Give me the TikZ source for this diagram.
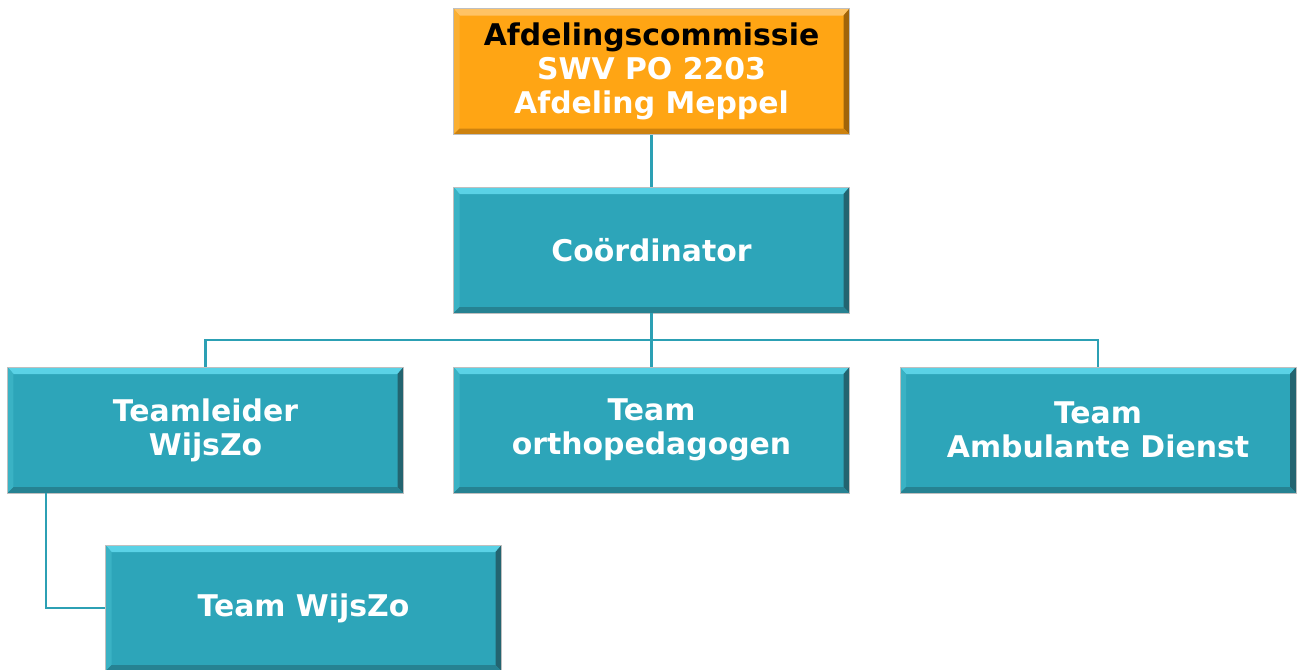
\documentclass[tikz,border=0pt]{standalone}
\usepackage{fontspec}
\setmainfont{DejaVu Sans}
\usetikzlibrary{positioning,calc}
\definecolor{boxteal}{RGB}{45,165,185}
\definecolor{tealtop}{RGB}{90,210,230}
\definecolor{tealleft}{RGB}{58,178,196}
\definecolor{tealdark}{RGB}{35,100,112}
\definecolor{tealbottom}{RGB}{38,130,146}
\definecolor{boxorange}{RGB}{255,165,20}
\definecolor{orangetop}{RGB}{255,195,100}
\definecolor{orangeleft}{RGB}{250,175,50}
\definecolor{orangedark}{RGB}{160,100,10}
\definecolor{orangebottom}{RGB}{205,130,15}
\definecolor{linkteal}{RGB}{44,160,180}

\begin{document}
\begin{tikzpicture}[
    every node/.style={align=center},
    link/.style={draw=linkteal, line width=1.2pt},
    bevel/.style n args={4}{path picture={
        \fill[#1] (path picture bounding box.north west) -- (path picture bounding box.north east)
            -- ($(path picture bounding box.north east)+(-0.12,-0.14)$) -- ($(path picture bounding box.north west)+(0.12,-0.14)$) -- cycle;
        \fill[#2] (path picture bounding box.north west) -- (path picture bounding box.south west)
            -- ($(path picture bounding box.south west)+(0.12,0.12)$) -- ($(path picture bounding box.north west)+(0.12,-0.14)$) -- cycle;
        \fill[#3] (path picture bounding box.north east) -- (path picture bounding box.south east)
            -- ($(path picture bounding box.south east)+(-0.12,0.12)$) -- ($(path picture bounding box.north east)+(-0.12,-0.14)$) -- cycle;
        \fill[#4] (path picture bounding box.south west) -- (path picture bounding box.south east)
            -- ($(path picture bounding box.south east)+(-0.12,0.12)$) -- ($(path picture bounding box.south west)+(0.12,0.12)$) -- cycle;
    }},
    unit/.style={minimum width=7.92cm, minimum height=2.52cm, inner sep=0pt,
        fill=boxteal, draw=black!25, line width=0.5pt, text=white,
        font=\fontsize{17}{19.5}\selectfont\bfseries,
        bevel={tealtop}{tealleft}{tealdark}{tealbottom}},
    board/.style={unit, fill=boxorange, bevel={orangetop}{orangeleft}{orangedark}{orangebottom}}
]
    \useasboundingbox (0,0) rectangle (25.96,-13.38);

    % Top of the chart
    \node[board] (commissie) at (13.03,-1.43) {{\color{black}Afdelingscommissie}\\SWV PO 2203\\Afdeling Meppel};
    \node[unit] (coordinator) at (13.03,-5.0) {Coördinator};

    % Teams
    \node[unit] (teamleider) at (4.11,-8.6) {Teamleider\\WijsZo};
    \node[unit] (ortho) at (13.03,-8.6) {Team\\orthopedagogen};
    \node[unit] (ambulant) at (21.96,-8.6) {Team\\Ambulante Dienst};
    \node[unit] (wijszo) at (6.07,-12.16) {Team WijsZo};

    % Lines
    \coordinate (split) at (13.03,-6.8);
    \draw[link] (commissie) -- (coordinator);
    \draw[link] (coordinator) -- (split);
    \draw[link] (split) -| (teamleider);
    \draw[link] (split) -- (ortho);
    \draw[link] (split) -| (ambulant);
    \draw[link] ($(teamleider.south west)+(0.78,0)$) |- (wijszo);
\end{tikzpicture}
\end{document}
